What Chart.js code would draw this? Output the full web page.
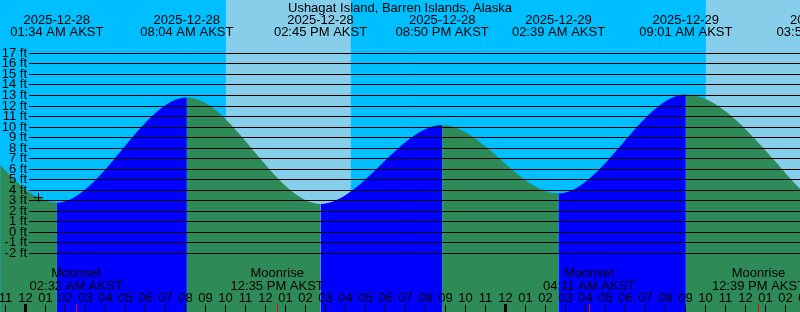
<!DOCTYPE html>
<html>
<head>
<meta charset="utf-8">
<script src="https://cdn.jsdelivr.net/npm/chart.js@4.4.1/dist/chart.umd.min.js"></script>
<style>
  html, body { margin: 0; padding: 0; background: #00bfff; }
  #wrap { width: 800px; height: 312px; }
</style>
</head>
<body>
<div id="wrap"><canvas id="tide-chart" width="800" height="312"></canvas></div>
<script>
const stationName = "Ushagat Island, Barren Islands, Alaska";
const tzName = "AKST";

// high / low tides (ft)
const tideEventTimes = ["2025-12-28 01:34", "2025-12-28 08:04", "2025-12-28 14:45", "2025-12-28 20:50",
                        "2025-12-29 02:39", "2025-12-29 09:01", "2025-12-29 15:53"];
const tideEventLevels = [2.8, 12.8, 2.7, 10.2, 3.7, 13.1, 2.0];

const curveTimes = ["2025-12-27 22:44", "2025-12-27 23:44", "2025-12-28 00:39"];
const curveLevels = [6.4, 4.5, 3.3];

const moonTimes = ["2025-12-28 02:32", "2025-12-28 12:35", "2025-12-29 04:11", "2025-12-29 12:39"];
const moonEvents = ["Moonset", "Moonrise", "Moonset", "Moonrise"];

const dayStarts = ["2025-12-28 10:01", "2025-12-29 10:01"];
const dayEnds = ["2025-12-28 16:16", "2025-12-29 16:17"];

// the "+" mark on the curve
const markTime = "2025-12-28 00:39";
const markLevel = 3.3;

const levelTicks = [-2, -1, 0, 1, 2, 3, 4, 5, 6, 7, 8, 9, 10, 11, 12, 13, 14, 15, 16, 17];

const NIGHT = "#00bfff", DAY = "#87ceeb", FLOOD = "#0000ff", EBB = "#2e8b57";
const FONT = '13px "Liberation Sans", Arial, sans-serif';

// hours since 2025-12-28 00:00
function hrs(s) {
  const [d, t] = s.split(" ");
  const [Y, M, D] = d.split("-").map(Number);
  const [h, m] = t.split(":").map(Number);
  return (Date.UTC(Y, M - 1, D, h, m) - Date.UTC(2025, 11, 28)) / 3600000;
}
function clock(s) {
  let [h, m] = s.split(" ")[1].split(":").map(Number);
  const ap = h < 12 ? "AM" : "PM";
  h = h % 12 || 12;
  return String(h).padStart(2, "0") + ":" + String(m).padStart(2, "0") + " " + ap + " " + tzName;
}

const tidePoints = tideEventTimes.map((t, i) => ({x: hrs(t), y: tideEventLevels[i]}))
  .concat(curveTimes.map((t, i) => ({x: hrs(t), y: curveLevels[i]})))
  .sort((a, b) => a.x - b.x);

const decor = {
  id: 'decor',
  beforeDatasetsDraw(chart) {
    const {ctx, chartArea: a, scales: {x}} = chart;
    ctx.save();
    ctx.fillStyle = NIGHT;
    ctx.fillRect(a.left, a.top, a.right - a.left, a.bottom - a.top);
    ctx.fillStyle = DAY;
    dayStarts.forEach((s, i) => {
      const x0 = Math.max(a.left, x.getPixelForValue(hrs(s)));
      const x1 = Math.min(a.right, x.getPixelForValue(hrs(dayEnds[i])));
      if (x1 > x0) ctx.fillRect(x0, a.top, x1 - x0, a.bottom - a.top);
    });
    ctx.restore();
  },
  afterDatasetsDraw(chart) {
    const {ctx, chartArea: a, scales: {x, y}} = chart;
    ctx.save();
    ctx.font = FONT;
    ctx.fillStyle = "#000";
    ctx.strokeStyle = "#000";
    ctx.lineWidth = 1;

    // level lines + labels
    levelTicks.forEach(v => {
      const py = Math.floor(y.getPixelForValue(v));
      ctx.beginPath();
      ctx.moveTo(29, py + 0.5);
      ctx.lineTo(a.right, py + 0.5);
      ctx.stroke();
      ctx.textAlign = "right";
      ctx.fillText(v + " ft", 27, py + 4);
    });

    // title
    ctx.textAlign = "center";
    ctx.fillText(stationName, (a.left + a.right) / 2, 12);

    // high / low labels
    tideEventTimes.forEach(t => {
      const px = x.getPixelForValue(hrs(t));
      ctx.fillText(t.split(" ")[0], px, 24);
      ctx.fillText(clock(t), px, 36);
    });

    // moon labels
    moonTimes.forEach((t, i) => {
      const px = x.getPixelForValue(hrs(t));
      ctx.fillText(moonEvents[i], px, 277);
      ctx.fillText(clock(t), px, 290);
    });

    // hour ticks
    for (let h = Math.ceil(x.min); h <= Math.floor(x.max) + 1; h++) {
      const px = Math.round(x.getPixelForValue(h) - 0.5) + 0.5;
      const hh = ((h % 24) + 24) % 24;
      const lab = String(hh % 12 || 12).padStart(2, "0");
      ctx.fillText(lab, px, 302);
      if (hh === 0) {
        ctx.fillRect(px - 1.5, 304, 3, 8);
      } else {
        ctx.beginPath();
        ctx.moveTo(px, 305);
        ctx.lineTo(px, 312);
        ctx.stroke();
      }
    }

    // moon ticks
    ctx.strokeStyle = "#ff0000";
    moonTimes.forEach(t => {
      const px = Math.round(x.getPixelForValue(hrs(t)) - 0.5) + 0.5;
      ctx.beginPath();
      ctx.moveTo(px, 304);
      ctx.lineTo(px, 312);
      ctx.stroke();
    });
    ctx.restore();
  }
};

new Chart(document.getElementById("tide-chart"), {
  type: 'line',
  data: {
    datasets: [
      {
        label: "mark",
        data: [{x: hrs(markTime), y: markLevel}],
        showLine: false,
        pointStyle: 'cross',
        pointRadius: 4.5,
        borderColor: "#000",
        borderWidth: 1
      },
      {
        label: "Tide",
        data: tidePoints,
        fill: 'start',
        cubicInterpolationMode: 'monotone',
        capBezierPoints: false,
        pointRadius: 0,
        borderWidth: 0,
        borderColor: "rgba(0,0,0,0)",
        backgroundColor: EBB,
        segment: {
          backgroundColor: c => c.p1.parsed.y >= c.p0.parsed.y ? FLOOD : EBB
        }
      }
    ]
  },
  options: {
    responsive: false,
    animation: false,
    events: [],
    layout: { padding: 0, autoPadding: false },
    scales: {
      x: { type: 'linear', display: false, min: -1.275, max: 38.725 },
      y: { type: 'linear', display: false, min: -7.57, max: 22.07 }
    },
    plugins: {
      legend: { display: false },
      title: { display: false },
      tooltip: { enabled: false }
    }
  },
  plugins: [decor]
});
</script>
</body>
</html>
